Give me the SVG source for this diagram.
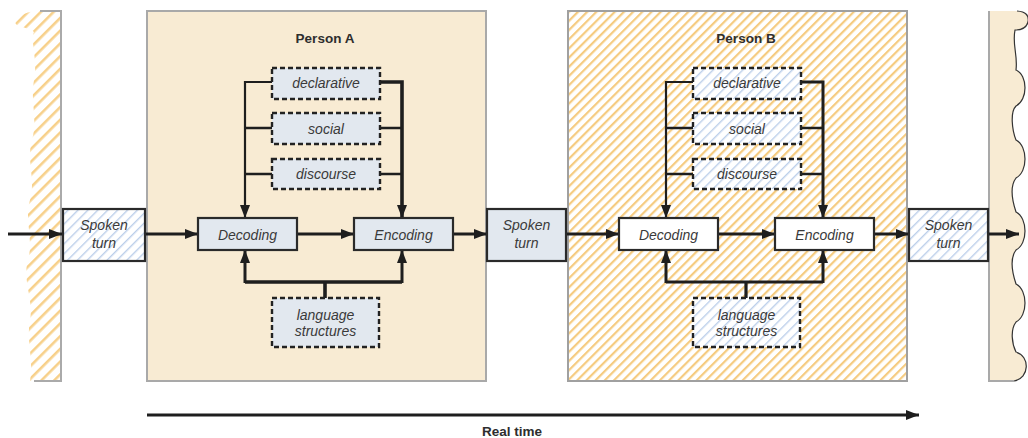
<svg xmlns="http://www.w3.org/2000/svg" width="1028" height="438" viewBox="0 0 1028 438">
<defs>
<pattern id="hOr" patternUnits="userSpaceOnUse" width="6.5" height="6.5" patternTransform="rotate(45)">
<rect x="0" y="0" width="2.2" height="6.5" fill="#f5cb80"/>
</pattern>
<pattern id="hOrW" patternUnits="userSpaceOnUse" width="9" height="9" patternTransform="rotate(45)">
<rect x="0" y="0" width="2.6" height="9" fill="#f7d08a"/>
</pattern>
<pattern id="hBl" patternUnits="userSpaceOnUse" width="7" height="7" patternTransform="rotate(45)">
<rect x="0" y="0" width="7" height="7" fill="#ffffff"/>
<rect x="0" y="0" width="1.4" height="7" fill="#bccfea"/>
</pattern>
<marker id="ah" viewBox="0 0 13 10" refX="13" refY="5" markerWidth="13" markerHeight="10" markerUnits="userSpaceOnUse" orient="auto">
<path d="M0,0 L13,5 L0,10 z" fill="#1e1e1e"/>
</marker>
<clipPath id="leftClip">
<path d="M40,11 H62 V381 H30 C34,360 26,340 30,320 C34,300 22,280 28,260 C34,240 24,220 30,200 C36,180 26,160 32,140 C38,120 30,100 34,80 C38,60 30,40 34,32 C28,26 12,28 16,20 C22,12 34,11 40,11 Z"/>
</clipPath>
<style>
.lbl{font-family:"Liberation Sans",Arial,sans-serif;font-style:italic;font-size:14px;fill:#3a3a3a;text-anchor:middle}
.ttl{font-family:"Liberation Sans",Arial,sans-serif;font-weight:bold;font-size:13.5px;fill:#2e2e2e;text-anchor:middle}
.dash{stroke:#222;stroke-width:2.4;stroke-dasharray:5,3}
.solid{stroke:#2a2a2a;stroke-width:2.2}
.ln{fill:none;stroke:#1e1e1e}
.arr{fill:none;stroke:#1e1e1e;stroke-width:3;marker-end:url(#ah)}
</style>
</defs>
<rect width="1028" height="438" fill="#ffffff"/>

<g id="left-edge">
<rect x="0" y="0" width="62" height="390" fill="url(#hOrW)" clip-path="url(#leftClip)"/>
<path d="M40,11 H61 V381 H34" fill="none" stroke="#aaaaaa" stroke-width="2"/>
</g>

<g id="person-a">
<rect x="147" y="11" width="339" height="370" fill="#f8ebd3" stroke="#a9a9a9" stroke-width="2"/>
<text class="ttl" x="325" y="43">Person A</text>
</g>

<g id="person-b">
<rect x="568" y="11" width="339" height="370" fill="#ffffff"/>
<rect x="568" y="11" width="339" height="370" fill="url(#hOr)" stroke="#a0a0a0" stroke-width="2"/>
<text class="ttl" x="746" y="43">Person B</text>
</g>

<g id="right-edge">
<path d="M989,11 H1017 Q1030,12 1028,22 Q1026,30 1015,30 C1012,45 1018,55 1016,70 C1028,75 1028,100 1016,106 C1010,112 1012,130 1016,140 C1028,146 1028,172 1016,178 C1010,186 1012,200 1016,212 C1028,218 1028,244 1016,250 C1010,258 1012,272 1016,284 C1028,290 1028,316 1016,322 C1010,330 1012,344 1016,352 C1030,356 1030,378 1014,381 H989 Z" fill="#f8ebd3"/>
<path d="M989,11 V381 H1014" fill="none" stroke="#a9a9a9" stroke-width="2"/>
<path d="M1017,11 Q1030,12 1028,22 Q1026,30 1015,30 C1012,45 1018,55 1016,70 C1028,75 1028,100 1016,106 C1010,112 1012,130 1016,140 C1028,146 1028,172 1016,178 C1010,186 1012,200 1016,212 C1028,218 1028,244 1016,250 C1010,258 1012,272 1016,284 C1028,290 1028,316 1016,322 C1010,330 1012,344 1016,352 C1030,356 1030,378 1014,381" fill="none" stroke="#333" stroke-width="1.2"/>
</g>

<g id="connectors">
<path class="arr" d="M8,234 H62"/>
<path class="arr" d="M145,234 H198"/>
<path class="ln" stroke-width="2.2" d="M272,82 H245 V218" marker-end="url(#ah)"/>
<path class="ln" stroke-width="2.6" d="M272,128 H245 M272,174 H245"/>
<path class="ln" stroke-width="3.6" d="M380,82 H402 V218" marker-end="url(#ah)"/>
<path class="ln" stroke-width="2.6" d="M380,128 H402 M380,174 H402"/>
<path class="arr" d="M297,234 H354"/>
<path class="arr" d="M453,234 H487"/>
<path class="ln" stroke-width="3.6" d="M245,282 H402 M325,282 V298"/>
<path class="arr" stroke-width="3.6" d="M245,283 V250"/>
<path class="arr" stroke-width="3.6" d="M402,283 V250"/>
<path class="arr" d="M566,234 H619"/>
<path class="ln" stroke-width="2.2" d="M693,82 H666 V218" marker-end="url(#ah)"/>
<path class="ln" stroke-width="2.6" d="M693,128 H666 M693,174 H666"/>
<path class="ln" stroke-width="3" d="M801,82 H823 V218" marker-end="url(#ah)"/>
<path class="ln" stroke-width="2.6" d="M801,128 H823 M801,174 H823"/>
<path class="arr" d="M718,234 H775"/>
<path class="arr" d="M874,234 H909"/>
<path class="ln" stroke-width="3.2" d="M666,282 H823 M746,282 V298"/>
<path class="arr" stroke-width="3.2" d="M666,283 V250"/>
<path class="arr" stroke-width="3.2" d="M823,283 V250"/>
<path class="arr" d="M988,234 H1019"/>
<path class="arr" d="M147,415 H919"/>
</g>

<g id="spoken-turn-1">
<rect x="63" y="209" width="82" height="52" fill="url(#hBl)" class="solid"/>
<text class="lbl" x="104" y="230">Spoken</text>
<text class="lbl" x="104" y="248">turn</text>
</g>
<g id="spoken-turn-2">
<rect x="487" y="209" width="79" height="52" fill="#e2e8ef" class="solid"/>
<text class="lbl" x="526.5" y="230">Spoken</text>
<text class="lbl" x="526.5" y="248">turn</text>
</g>
<g id="spoken-turn-3">
<rect x="909" y="209" width="79" height="52" fill="url(#hBl)" class="solid"/>
<text class="lbl" x="948.5" y="230">Spoken</text>
<text class="lbl" x="948.5" y="248">turn</text>
</g>

<g id="a-declarative">
<rect x="272" y="68" width="108" height="31" fill="#e2e8ef" class="dash"/>
<text class="lbl" x="326" y="88">declarative</text>
</g>
<g id="a-social">
<rect x="272" y="113" width="108" height="31" fill="#e2e8ef" class="dash"/>
<text class="lbl" x="326" y="134">social</text>
</g>
<g id="a-discourse">
<rect x="272" y="159" width="108" height="30" fill="#e2e8ef" class="dash"/>
<text class="lbl" x="326" y="179">discourse</text>
</g>
<g id="a-decoding">
<rect x="198" y="218" width="99" height="32" fill="#e2e8ef" class="solid"/>
<text class="lbl" x="247.5" y="239.5">Decoding</text>
</g>
<g id="a-encoding">
<rect x="354" y="218" width="99" height="32" fill="#e2e8ef" class="solid"/>
<text class="lbl" x="403.5" y="239.5">Encoding</text>
</g>
<g id="a-language">
<rect x="272" y="298" width="107" height="49" fill="#e2e8ef" class="dash"/>
<text class="lbl" x="325.5" y="320">language</text>
<text class="lbl" x="325.5" y="336">structures</text>
</g>

<g id="b-declarative">
<rect x="693" y="68" width="108" height="31" fill="url(#hBl)" class="dash"/>
<text class="lbl" x="747" y="88">declarative</text>
</g>
<g id="b-social">
<rect x="693" y="113" width="108" height="31" fill="url(#hBl)" class="dash"/>
<text class="lbl" x="747" y="134">social</text>
</g>
<g id="b-discourse">
<rect x="693" y="159" width="108" height="30" fill="url(#hBl)" class="dash"/>
<text class="lbl" x="747" y="179">discourse</text>
</g>
<g id="b-decoding">
<rect x="619" y="218" width="99" height="32" fill="#ffffff" class="solid"/>
<text class="lbl" x="668.5" y="239.5">Decoding</text>
</g>
<g id="b-encoding">
<rect x="775" y="218" width="99" height="32" fill="#ffffff" class="solid"/>
<text class="lbl" x="824.5" y="239.5">Encoding</text>
</g>
<g id="b-language">
<rect x="693" y="298" width="107" height="49" fill="url(#hBl)" class="dash"/>
<text class="lbl" x="746.5" y="320">language</text>
<text class="lbl" x="746.5" y="336">structures</text>
</g>

<g id="real-time-label">
<text class="ttl" x="512" y="436" font-size="13">Real time</text>
</g>
</svg>
